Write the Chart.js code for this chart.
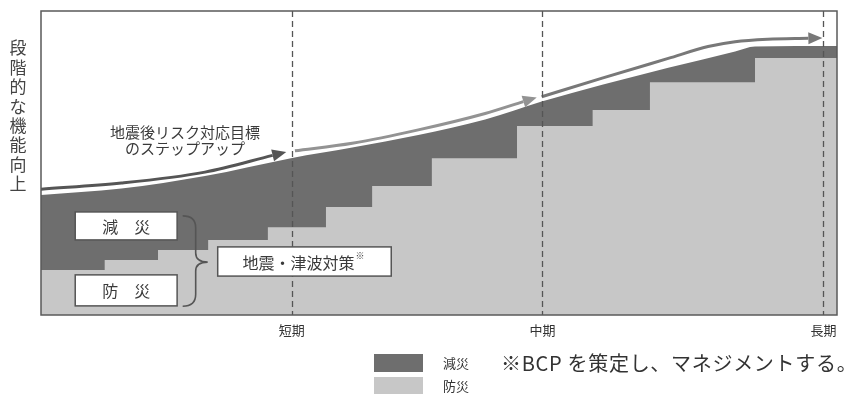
<!DOCTYPE html>
<html lang="ja">
<head>
<meta charset="utf-8">
<script src="https://cdn.jsdelivr.net/npm/chart.js@4/dist/chart.umd.min.js"></script>
<style>
html, body { margin: 0; padding: 0; background: #ffffff; }
#wrap { position: relative; width: 855px; height: 394px; }
</style>
</head>
<body>
<div id="wrap"><canvas id="c" width="855" height="394"></canvas></div>
<script>
// Timeline runs 0–100 across the plot; levels run 0–100 up the plot.

// 防災: stepped level, each value holds from its x until the next x
const stepX = [0, 8.0, 14.7, 21.0, 28.5, 35.8, 41.6, 49.1, 59.8, 69.3, 76.5, 89.7, 100];
const bousaiLevels = [14.8, 18.1, 21.4, 24.7, 28.9, 35.5, 42.4, 51.6, 62.2, 67.4, 76.6, 84.5, 84.5];

// 減災: smooth upper envelope
const gensaiX = [0, 10.1, 20.6, 31.4, 39.1, 47.4, 55.8, 62.9, 70.5, 78.8, 87.2, 89.7, 100];
const gensaiLevels = [39.5, 41.6, 45.7, 51.6, 55.1, 59.2, 64.3, 70.2, 75.7, 81.3, 86.7, 88.3, 88.5];

// 目標のステップアップ arrows (last point = base of the arrow head)
const arrow1X = [0, 10.1, 20.6, 29.1];
const arrow1Y = [41.4, 43.4, 47.0, 52.5];
const arrow2X = [31.9, 39.1, 47.4, 55.8, 60.6];
const arrow2Y = [54.0, 56.5, 60.9, 66.3, 70.2];
const arrow3X = [62.9, 70.5, 78.8, 83.8, 87.2, 91.3, 96.4];
const arrow3Y = [71.8, 77.9, 84.4, 88.3, 89.9, 90.7, 91.0];

// period markers along the timeline
const periodLabels = ['短期', '中期', '長期'];
const periodX = [31.5, 63.0, 98.3];

const seriesNames = ['減災', '防災'];
const yTitle = '段階的な機能向上';
const arrowCaption = ['地震後リスク対応目標', 'のステップアップ'];
const footNote = '※BCP を策定し、マネジメントする。';

const DARK = '#6e6e6e';
const LIGHT = '#c7c7c7';
const JP = '"Noto Sans CJK JP", "Noto Sans", sans-serif';

const pts = (xs, ys) => xs.map((x, i) => ({ x: x, y: ys[i] }));

function arrowSet(xs, ys, color) {
  return {
    label: 'arrow',
    isArrow: true,
    data: pts(xs, ys),
    borderColor: color,
    backgroundColor: color,
    borderWidth: 3,
    borderCapStyle: 'butt',
    pointRadius: 0,
    fill: false,
    cubicInterpolationMode: 'monotone',
    order: 1
  };
}

const decorations = {
  id: 'decorations',
  afterDatasetsDraw(chart) {
    const ctx = chart.ctx;
    const a = chart.chartArea;
    const xs = chart.scales.x, ys = chart.scales.y;
    const px = v => xs.getPixelForValue(v);
    const py = v => ys.getPixelForValue(v);
    ctx.save();

    // arrow heads
    chart.data.datasets.forEach((ds, i) => {
      if (!ds.isArrow) return;
      const el = chart.getDatasetMeta(i).data;
      const p1 = el[el.length - 2], p2 = el[el.length - 1];
      let dx = p2.x - p1.x, dy = p2.y - p1.y;
      const len = Math.hypot(dx, dy);
      dx /= len; dy /= len;
      const L = 14, W = 6;
      ctx.fillStyle = ds.borderColor;
      ctx.beginPath();
      ctx.moveTo(p2.x + dx * L, p2.y + dy * L);
      ctx.lineTo(p2.x - dy * W, p2.y + dx * W);
      ctx.lineTo(p2.x + dy * W, p2.y - dx * W);
      ctx.closePath();
      ctx.fill();
    });

    // dashed period lines
    ctx.strokeStyle = '#555';
    ctx.lineWidth = 1.3;
    ctx.setLineDash([6, 4]);
    periodX.forEach(v => {
      const x = Math.round(px(v)) + 0.5;
      ctx.beginPath();
      ctx.moveTo(x, a.top);
      ctx.lineTo(x, a.bottom);
      ctx.stroke();
    });
    ctx.setLineDash([]);

    // plot frame
    ctx.strokeStyle = '#5a5a5a';
    ctx.lineWidth = 1.5;
    ctx.strokeRect(a.left, a.top, a.right - a.left, a.bottom - a.top);

    // labelled boxes
    function box(x0, x1, y0, y1, text, size) {
      const l = px(x0), r = px(x1), t = py(y0), b = py(y1);
      ctx.fillStyle = '#ffffff';
      ctx.fillRect(l, t, r - l, b - t);
      ctx.strokeStyle = '#555';
      ctx.lineWidth = 1.5;
      ctx.strokeRect(l, t, r - l, b - t);
      ctx.fillStyle = '#3a3a3a';
      ctx.font = size + 'px ' + JP;
      ctx.textAlign = 'center';
      ctx.textBaseline = 'middle';
      ctx.fillText(text, (l + r) / 2, (t + b) / 2 + 1);
      return { l, r, t, b };
    }
    box(4.3, 17.1, 33.9, 24.7, seriesNames[0].split('').join('　'), 16);
    box(4.3, 17.1, 13.2, 3.0, seriesNames[1].split('').join('　'), 16);
    const big = box(22.2, 44.0, 22.4, 12.8, '', 16);
    ctx.fillStyle = '#3a3a3a';
    ctx.font = '16px ' + JP;
    ctx.textAlign = 'left';
    const main = '地震・津波対策';
    const mw = ctx.measureText(main).width;
    const cx = (big.l + big.r) / 2 - 6;
    ctx.fillText(main, cx - mw / 2, (big.t + big.b) / 2 + 1);
    ctx.font = '9px ' + JP;
    ctx.fillText('※', cx + mw / 2 + 1, (big.t + big.b) / 2 - 6);

    // curly brace joining the two boxes
    const bx = px(17.8), bt = py(32.6), bb = py(2.9), bm = py(17.4);
    const bv = bx + 13, tip = bx + 25;
    ctx.strokeStyle = '#555';
    ctx.lineWidth = 1.6;
    ctx.beginPath();
    ctx.moveTo(bx, bt);
    ctx.quadraticCurveTo(bv, bt, bv, bt + 12);
    ctx.lineTo(bv, bm - 9);
    ctx.quadraticCurveTo(bv, bm, tip, bm);
    ctx.quadraticCurveTo(bv, bm, bv, bm + 9);
    ctx.lineTo(bv, bb - 12);
    ctx.quadraticCurveTo(bv, bb, bx, bb);
    ctx.stroke();

    // caption over the first arrow
    ctx.fillStyle = '#3a3a3a';
    ctx.font = '15px ' + JP;
    ctx.textAlign = 'center';
    ctx.textBaseline = 'middle';
    ctx.fillText(arrowCaption[0], px(18.1), py(60.2));
    ctx.fillText(arrowCaption[1], px(18.1), py(54.9));

    // y title, stacked vertically
    ctx.fillStyle = '#444';
    ctx.font = '17px ' + JP;
    yTitle.split('').forEach((ch, i) => {
      ctx.fillText(ch, 18, 48 + i * 19.4);
    });

    // period labels
    ctx.fillStyle = '#333';
    ctx.font = '13px ' + JP;
    periodLabels.forEach((t, i) => {
      ctx.fillText(t, px(periodX[i]), a.bottom + 15);
    });

    // legend
    const legendItems = [
      { name: seriesNames[0], color: chart.data.datasets[1].backgroundColor, y: 354 },
      { name: seriesNames[1], color: chart.data.datasets[0].backgroundColor, y: 377 }
    ];
    legendItems.forEach(it => {
      ctx.fillStyle = it.color;
      ctx.fillRect(374, it.y, 49, 18);
      ctx.fillStyle = '#333';
      ctx.font = '13px ' + JP;
      ctx.textAlign = 'center';
      ctx.fillText(it.name, 456, it.y + 9);
    });

    // note
    ctx.fillStyle = '#333';
    ctx.font = '20px ' + JP;
    ctx.textAlign = 'left';
    ctx.letterSpacing = '0.7px';
    ctx.fillText(footNote, 501, 363);
    ctx.letterSpacing = '0px';

    ctx.restore();
  }
};

new Chart(document.getElementById('c'), {
  type: 'line',
  data: {
    datasets: [
      {
        label: seriesNames[1],
        data: pts(stepX, bousaiLevels),
        stepped: true,
        backgroundColor: LIGHT,
        borderColor: LIGHT,
        borderWidth: 0,
        pointRadius: 0,
        fill: 'origin',
        order: 2
      },
      {
        label: seriesNames[0],
        data: pts(gensaiX, gensaiLevels),
        cubicInterpolationMode: 'monotone',
        backgroundColor: DARK,
        borderColor: DARK,
        borderWidth: 0,
        pointRadius: 0,
        fill: 'origin',
        order: 3
      },
      arrowSet(arrow1X, arrow1Y, '#555555'),
      arrowSet(arrow2X, arrow2Y, '#939393'),
      arrowSet(arrow3X, arrow3Y, '#787878')
    ]
  },
  options: {
    responsive: false,
    animation: false,
    layout: { padding: { left: 41, top: 11, right: 18, bottom: 79 } },
    scales: {
      x: { type: 'linear', min: 0, max: 100, display: false },
      y: { type: 'linear', min: 0, max: 100, display: false }
    },
    plugins: {
      legend: { display: false },
      tooltip: { enabled: false }
    }
  },
  plugins: [decorations]
});
</script>
</body>
</html>
